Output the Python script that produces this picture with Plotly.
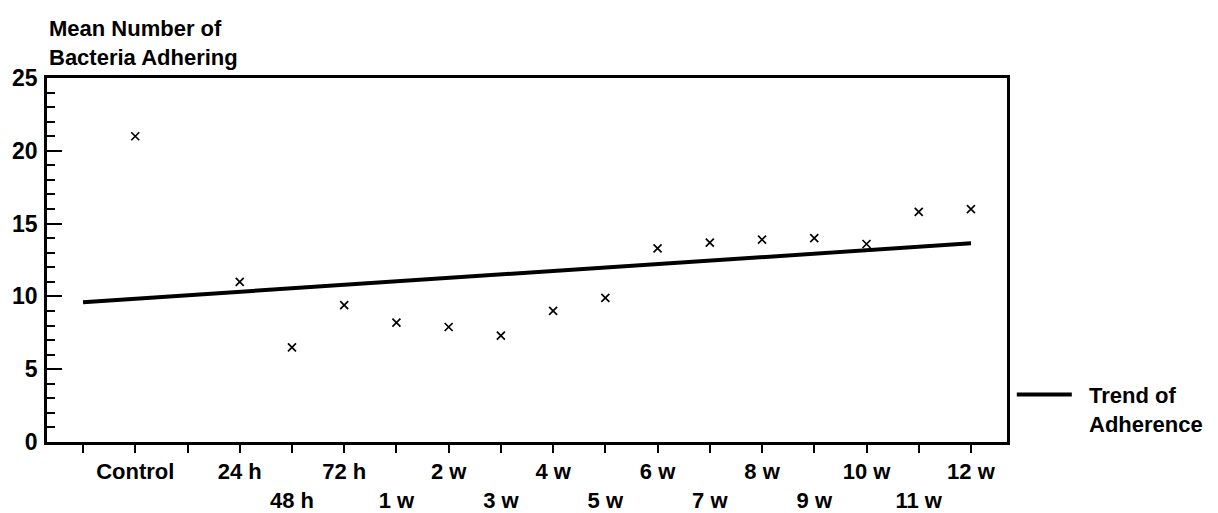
import plotly.graph_objects as go

# ---- data ----
categories = ["Control", "24 h", "48 h", "72 h", "1 w", "2 w", "3 w", "4 w",
              "5 w", "6 w", "7 w", "8 w", "9 w", "10 w", "11 w", "12 w"]
mean_adhering = [21.0, 11.0, 6.5, 9.4, 8.2, 7.9, 7.3, 9.0,
                 9.9, 13.3, 13.7, 13.9, 14.0, 13.6, 15.8, 16.0]
second_row = ["48 h", "1 w", "3 w", "5 w", "7 w", "9 w", "11 w"]
# axis slots (two empty slots: before Control and between Control and 24 h)
slots = ["s0", "Control", "s1"] + categories[1:]
trend_x = ["s0", "12 w"]
trend_y = [9.6, 13.65]
y_ticks = [0, 5, 10, 15, 20, 25]

ticktext = []
for s in slots:
    if s.startswith("s") and s not in categories:
        ticktext.append("")
    elif s in second_row:
        ticktext.append("<br>" + s)
    else:
        ticktext.append(s)

FONT = "Liberation Sans, Arial, sans-serif"
NB = "\u00a0\u00a0"

fig = go.Figure()
fig.add_trace(go.Scatter(
    x=trend_x, y=trend_y, mode="lines",
    line=dict(color="black", width=4),
    name=NB + "Trend of<br>" + NB + "Adherence", showlegend=True,
))
fig.add_trace(go.Scatter(
    x=categories, y=mean_adhering, mode="markers",
    marker=dict(symbol="x-thin", size=8, line=dict(color="black", width=1.7), color="black"),
    showlegend=False,
))

fig.update_layout(
    width=1218, height=513,
    margin=dict(l=47, r=211, t=78, b=71, autoexpand=False),
    paper_bgcolor="white", plot_bgcolor="white",
    font=dict(family=FONT, size=23, color="black", weight="bold"),
    legend=dict(x=1.005, xanchor="left", y=0.09, yanchor="middle",
                valign="top", itemwidth=55, tracegroupgap=0,
                font=dict(size=22), bgcolor="rgba(0,0,0,0)"),
    annotations=[dict(
        text="Mean Number of<br>Bacteria Adhering", xref="paper", yref="paper",
        x=0, y=1, xanchor="left", yanchor="bottom", yshift=6, showarrow=False,
        align="left", font=dict(size=22),
    )],
)
fig.update_xaxes(
    type="category", categoryorder="array", categoryarray=slots,
    range=[-0.69, 17.69], automargin=False,
    tickmode="array", tickvals=slots, ticktext=ticktext,
    ticks="outside", ticklen=8, tickwidth=2, tickcolor="black",
    showline=True, linewidth=2.5, linecolor="black", mirror=True,
    showgrid=False, zeroline=False, tickfont=dict(size=22),
)
fig.update_yaxes(
    range=[0, 25], tickmode="array", tickvals=y_ticks, automargin=False,
    ticks="inside", ticklen=15, tickwidth=2, tickcolor="black",
    minor=dict(dtick=1, ticks="inside", ticklen=8, tickwidth=2, tickcolor="black"),
    showline=True, linewidth=2.5, linecolor="black", mirror=True,
    showgrid=False, zeroline=False, tickfont=dict(size=23), ticklabelstandoff=2,
)

fig.write_html("out.html")
